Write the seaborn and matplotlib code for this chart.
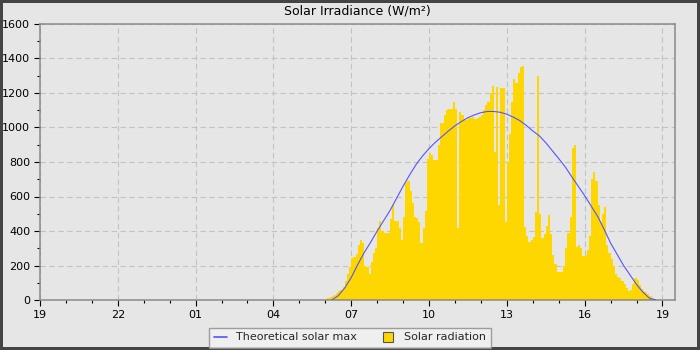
import numpy as np
import pandas as pd
import matplotlib
matplotlib.use("Agg")
import matplotlib.pyplot as plt
import matplotlib.dates as mdates
from matplotlib.lines import Line2D
import seaborn as sns

# ---------------- data ----------------
title = "Solar Irradiance (W/m²)"
label_theoretical = "Theoretical solar max"
label_radiation = "Solar radiation"

axis_start = "2024-06-01 19:00"
axis_end = "2024-06-02 19:29"

# measured solar radiation, 5-minute readings starting 06:00
rad_start = "2024-06-02 06:00"
rad_step = "5min"
radiation = [
    8, 12, 17, 23, 30, 38, 50, 60, 75, 110, 150, 190,                 # 06
    245, 250, 265, 320, 345, 330, 200, 190, 150, 220, 270, 300,        # 07
    420, 460, 400, 390, 388, 390, 470, 550, 460, 460, 420, 350,        # 08
    480, 680, 690, 630, 560, 480, 478, 450, 330, 420, 515, 820,        # 09
    850, 840, 811, 811, 900, 1028, 1028, 1070, 1100, 1110, 1110, 1145,  # 10
    1110, 420, 1090, 1075, 1045, 1045, 1053, 1055, 1058, 1050, 1053, 1058,  # 11
    1075, 1101, 1130, 1150, 1200, 1240, 860, 1236, 550, 1227, 1227, 450,   # 12
    800, 960, 1150, 1280, 1260, 1314, 1352, 1356, 425, 370, 335, 350,      # 13
    365, 510, 1300, 500, 357, 380, 430, 490, 380, 260, 210, 160,           # 14
    162, 165, 200, 300, 390, 480, 880, 900, 305, 320, 300, 255,            # 15
    260, 290, 370, 700, 740, 690, 550, 450, 500, 540, 320, 275,            # 16
    240, 200, 150, 135, 125, 110, 90, 70, 52, 58, 90, 130,                 # 17
    115, 85, 65, 52, 44, 35, 22, 10, 4, 1, 0,                              # 18
]

# theoretical clear-sky maximum, 15-minute points starting 06:15
theo_start = "2024-06-02 06:15"
theo_step = "15min"
theoretical = [
    0, 25, 70,
    130, 205, 275, 335,
    400, 460, 520, 590,
    660, 725, 785, 835,
    878, 915, 948, 980,
    1010, 1035, 1057, 1073,
    1086, 1093, 1093, 1088,
    1077, 1060, 1040, 1012,
    980, 952, 912, 866,
    820, 772, 715, 660,
    605, 545, 485, 410,
    330, 265, 200, 145,
    90, 45, 10, 0,
]

y_ticks = [0, 200, 400, 600, 800, 1000, 1200, 1400, 1600]
x_tick_hours = [19, 22, 1, 4, 7, 10, 13, 16]

# ---------------- style ----------------
bg = "#e6e6e6"
gold = "#FFD700"
blue = "#5555ff"

sns.set_style("ticks")
plt.rcParams["font.family"] = ["DejaVu Sans"]

rad_df = pd.DataFrame({
    "time": pd.date_range(rad_start, periods=len(radiation), freq=rad_step),
    "value": radiation,
})
theo_df = pd.DataFrame({
    "time": pd.date_range(theo_start, periods=len(theoretical), freq=theo_step),
    "value": theoretical,
})

fig = plt.figure(figsize=(7, 3.5), dpi=100, facecolor=bg)
fig.patch.set_edgecolor("#444444")
fig.patch.set_linewidth(3)
ax = fig.add_axes([40 / 700, 50 / 350, 635 / 700, 276 / 350])
ax.set_facecolor(bg)

ax.fill_between(rad_df["time"], 0, rad_df["value"], step="post",
                color=gold, linewidth=0, zorder=2)
sns.lineplot(data=theo_df, x="time", y="value", ax=ax, color=blue,
             linewidth=0.8, zorder=3, legend=False)

ax.set_xlim(pd.Timestamp(axis_start), pd.Timestamp(axis_end))
ax.set_ylim(0, 1600)
ax.set_yticks(y_ticks)
ax.yaxis.set_minor_locator(matplotlib.ticker.MultipleLocator(100))
ax.xaxis.set_major_locator(mdates.HourLocator(byhour=x_tick_hours))
ax.xaxis.set_minor_locator(mdates.HourLocator())
ax.xaxis.set_major_formatter(mdates.DateFormatter("%H"))

ax.set_xlabel("")
ax.set_ylabel("")
ax.grid(True, which="major", color="#c2c2c2", linestyle=(0, (5, 3)), linewidth=0.8, zorder=1)
ax.set_axisbelow(True)

for s in ax.spines.values():
    s.set_color("#8a8a8a")
    s.set_linewidth(1.1)
    s.set_visible(True)

ax.tick_params(axis="both", which="major", direction="out", length=4, width=0.8,
               color="black", labelsize=8, labelcolor="black", pad=3)
ax.tick_params(axis="both", which="minor", direction="out", length=2.2, width=0.8,
               color="black")

ax.set_title(title, fontsize=9, pad=6.5, color="black")

handles = [
    Line2D([], [], color=blue, linewidth=1.2),
    Line2D([], [], marker="s", linestyle="none", markersize=7,
           markerfacecolor=gold, markeredgecolor="#555555", markeredgewidth=0.8),
]
leg = fig.legend(handles, [label_theoretical, label_radiation], loc="center",
                 bbox_to_anchor=(0.5, 12.5 / 350), ncol=2, fontsize=8,
                 frameon=True, fancybox=False, handlelength=1.2,
                 columnspacing=2.2, handletextpad=0.8, borderpad=0.45)
leg.get_frame().set_facecolor("#f2f2f2")
leg.get_frame().set_edgecolor("#8a8a8a")
leg.get_frame().set_linewidth(1.0)

fig.savefig("out.png", dpi=100, facecolor=bg, edgecolor=fig.get_edgecolor())
